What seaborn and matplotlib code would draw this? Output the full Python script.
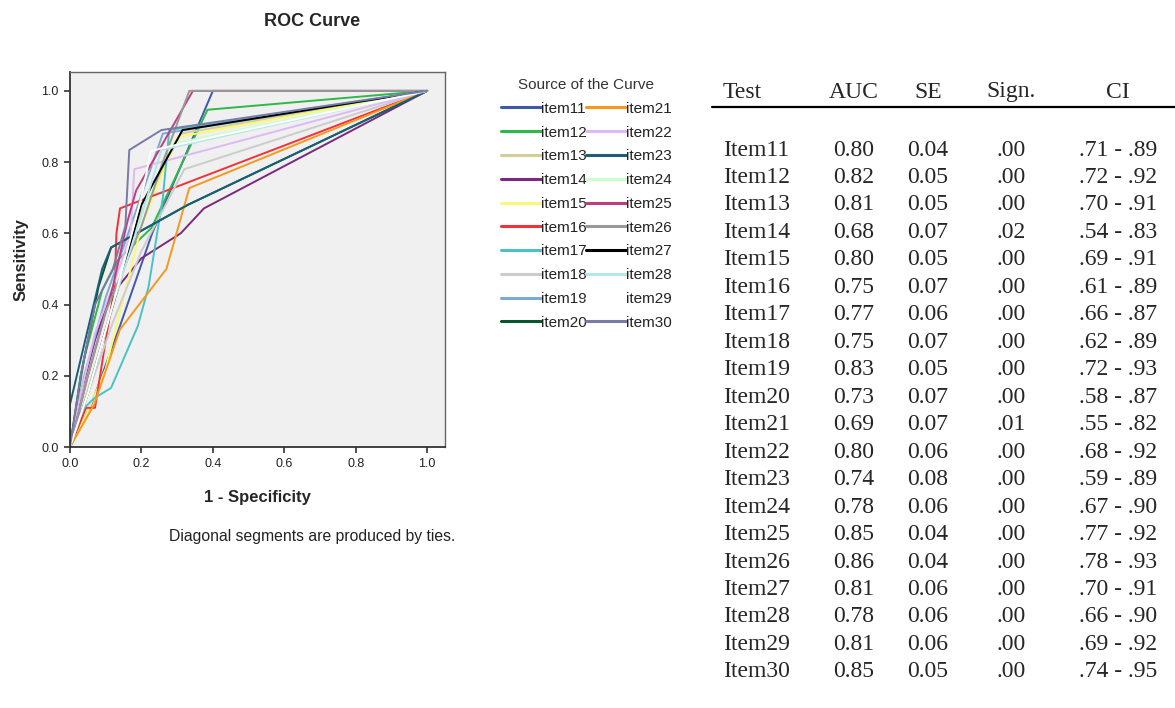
import numpy as np
import pandas as pd
import matplotlib
matplotlib.use("Agg")
import matplotlib.pyplot as plt
from matplotlib.lines import Line2D
import seaborn as sns

# ---- ROC curve points (1 - specificity, sensitivity) per item ----
item11_fpr = [0.0, 0.06, 0.14, 0.23, 0.40, 1.0]
item11_tpr = [0.0, 0.12, 0.34, 0.60, 1.00, 1.0]
item12_fpr = [0.0, 0.04, 0.09, 0.134, 0.228, 0.385, 1.0]
item12_tpr = [0.0, 0.25, 0.44, 0.525, 0.615, 0.947, 1.0]
item13_fpr = [0.0, 0.05, 0.11, 0.20, 0.31, 1.0]
item13_tpr = [0.0, 0.16, 0.36, 0.66, 0.88, 1.0]
item14_fpr = [0.0, 0.03, 0.07, 0.11, 0.20, 0.31, 0.375, 1.0]
item14_tpr = [0.0, 0.15, 0.30, 0.42, 0.53, 0.60, 0.67, 1.0]
item15_fpr = [0.0, 0.05, 0.10, 0.14, 0.20, 0.30, 1.0]
item15_tpr = [0.0, 0.10, 0.22, 0.38, 0.62, 0.87, 1.0]
item16_fpr = [0.0, 0.045, 0.07, 0.10, 0.125, 0.13, 0.14, 1.0]
item16_tpr = [0.0, 0.11, 0.11, 0.30, 0.45, 0.60, 0.67, 1.0]
item17_fpr = [0.0, 0.03, 0.068, 0.115, 0.19, 0.22, 0.26, 0.278, 1.0]
item17_tpr = [0.0, 0.10, 0.137, 0.166, 0.34, 0.45, 0.70, 0.89, 1.0]
item18_fpr = [0.0, 0.05, 0.12, 0.20, 0.32, 1.0]
item18_tpr = [0.0, 0.15, 0.35, 0.55, 0.78, 1.0]
item19_fpr = [0.0, 0.04, 0.10, 0.17, 0.26, 1.0]
item19_tpr = [0.0, 0.20, 0.42, 0.62, 0.88, 1.0]
item20_fpr = [0.0, 0.03, 0.08, 0.115, 0.33, 1.0]
item20_tpr = [0.0, 0.20, 0.45, 0.56, 0.68, 1.0]
item21_fpr = [0.0, 0.067, 0.14, 0.27, 0.334, 1.0]
item21_tpr = [0.0, 0.118, 0.33, 0.50, 0.727, 1.0]
item22_fpr = [0.0, 0.03, 0.07, 0.12, 0.17, 0.18, 1.0]
item22_tpr = [0.0, 0.15, 0.32, 0.45, 0.60, 0.78, 1.0]
item23_fpr = [0.0, 0.0, 0.09, 0.115, 0.33, 1.0]
item23_tpr = [0.0, 0.12, 0.50, 0.56, 0.68, 1.0]
item24_fpr = [0.0, 0.05, 0.12, 0.20, 0.28, 1.0]
item24_tpr = [0.0, 0.15, 0.40, 0.65, 0.85, 1.0]
item25_fpr = [0.0, 0.05, 0.12, 0.16, 0.185, 0.27, 0.344, 1.0]
item25_tpr = [0.0, 0.20, 0.45, 0.63, 0.72, 0.87, 1.00, 1.0]
item26_fpr = [0.0, 0.05, 0.10, 0.20, 0.26, 0.334, 1.0]
item26_tpr = [0.0, 0.20, 0.38, 0.62, 0.80, 1.00, 1.0]
item27_fpr = [0.0, 0.05, 0.10, 0.15, 0.20, 0.315, 1.0]
item27_tpr = [0.0, 0.15, 0.33, 0.50, 0.68, 0.89, 1.0]
item28_fpr = [0.0, 0.05, 0.12, 0.20, 0.256, 1.0]
item28_tpr = [0.0, 0.15, 0.40, 0.65, 0.834, 1.0]
item29_fpr = [0.0, 0.05, 0.12, 0.20, 0.226, 0.26, 1.0]
item29_tpr = [0.0, 0.15, 0.40, 0.70, 0.83, 0.84, 1.0]
item30_fpr = [0.0, 0.03, 0.07, 0.12, 0.155, 0.166, 0.256, 1.0]
item30_tpr = [0.0, 0.20, 0.40, 0.50, 0.62, 0.834, 0.89, 1.0]

curve_names = [f"item{i}" for i in range(11, 31)]
curve_fpr = [item11_fpr, item12_fpr, item13_fpr, item14_fpr, item15_fpr,
             item16_fpr, item17_fpr, item18_fpr, item19_fpr, item20_fpr,
             item21_fpr, item22_fpr, item23_fpr, item24_fpr, item25_fpr,
             item26_fpr, item27_fpr, item28_fpr, item29_fpr, item30_fpr]
curve_tpr = [item11_tpr, item12_tpr, item13_tpr, item14_tpr, item15_tpr,
             item16_tpr, item17_tpr, item18_tpr, item19_tpr, item20_tpr,
             item21_tpr, item22_tpr, item23_tpr, item24_tpr, item25_tpr,
             item26_tpr, item27_tpr, item28_tpr, item29_tpr, item30_tpr]
curve_colors = ["#3E58AC", "#2EB848", "#D3CE97", "#7C287D", "#FBF873",
                "#EF3338", "#48C2C5", "#CCCCCC", "#7AAAD5", "#0A562C",
                "#F8981D", "#DDBAF1", "#1A5F76", "#CCFFCC", "#BB3F7F",
                "#999999", "#000000", "#B6E7E8", "#FFFFFF", "#797AA7"]

# ---- AUC summary table ----
tests = [f"Item{i}" for i in range(11, 31)]
auc = [0.80, 0.82, 0.81, 0.68, 0.80, 0.75, 0.77, 0.75, 0.83, 0.73,
       0.69, 0.80, 0.74, 0.78, 0.85, 0.86, 0.81, 0.78, 0.81, 0.85]
se = [0.04, 0.05, 0.05, 0.07, 0.05, 0.07, 0.06, 0.07, 0.05, 0.07,
      0.07, 0.06, 0.08, 0.06, 0.04, 0.04, 0.06, 0.06, 0.06, 0.05]
sign = [0.00, 0.00, 0.00, 0.02, 0.00, 0.00, 0.00, 0.00, 0.00, 0.00,
        0.01, 0.00, 0.00, 0.00, 0.00, 0.00, 0.00, 0.00, 0.00, 0.00]
ci_low = [0.71, 0.72, 0.70, 0.54, 0.69, 0.61, 0.66, 0.62, 0.72, 0.58,
          0.55, 0.68, 0.59, 0.67, 0.77, 0.78, 0.70, 0.66, 0.69, 0.74]
ci_high = [0.89, 0.92, 0.91, 0.83, 0.91, 0.89, 0.87, 0.89, 0.93, 0.87,
           0.82, 0.92, 0.89, 0.90, 0.92, 0.93, 0.91, 0.90, 0.92, 0.95]

rows = []
for name, xs, ys in zip(curve_names, curve_fpr, curve_tpr):
    for order, (x, y) in enumerate(zip(xs, ys)):
        rows.append({"item": name, "order": order, "fpr": x, "tpr": y})
df = pd.DataFrame(rows)
palette = dict(zip(curve_names, curve_colors))

sns.set_theme(style="white")
plt.rcParams["font.family"] = ["Liberation Sans", "DejaVu Sans"]

W, H = 1175, 708
fig = plt.figure(figsize=(W / 100, H / 100), dpi=100)
ax = fig.add_axes([70 / W, 1 - 447 / H, 375 / W, 375 / H])
ax.set_facecolor("#F0F0F0")

sns.lineplot(data=df, x="fpr", y="tpr", hue="item", hue_order=curve_names,
             palette=palette, sort=False, estimator=None, units="item",
             linewidth=1.4, legend=False, ax=ax)

ax.set_xlim(0, 1.05)
ax.set_ylim(0, 1.053)
ticks = [0.0, 0.2, 0.4, 0.6, 0.8, 1.0]
ax.set_xticks(ticks)
ax.set_yticks(ticks)
ax.set_xticklabels([f"{t:.1f}" for t in ticks])
ax.set_yticklabels([f"{t:.1f}" for t in ticks])
ax.tick_params(axis="both", direction="out", length=4, width=1.2,
               color="#333333", labelsize=9, labelcolor="#222222", pad=4,
               bottom=True, left=True)
for side in ["left", "bottom"]:
    ax.spines[side].set_color("#333333")
    ax.spines[side].set_linewidth(1.3)
for side in ["top", "right"]:
    ax.spines[side].set_color("#666666")
    ax.spines[side].set_linewidth(1.0)

ax.set_xlabel("1 - Specificity", fontsize=12, fontweight="bold", labelpad=14)
ax.set_ylabel("Sensitivity", fontsize=12, fontweight="bold", labelpad=9)

fig.text(312 / W, 1 - 21 / H, "ROC Curve", ha="center", va="center",
         fontsize=13, fontweight="bold")
fig.text(312 / W, 1 - 536 / H, "Diagonal segments are produced by ties.",
         ha="center", va="center", fontsize=11.3, color="#222222")

handles = [Line2D([], [], color=c, linewidth=2.2) for c in curve_colors]
leg = fig.legend(handles, curve_names, loc="upper left",
                 bbox_to_anchor=(501 / W, 1 - 78 / H), ncol=2,
                 frameon=False, fontsize=11, title="Source of the Curve",
                 title_fontsize=11, handlelength=2.6, handletextpad=0.0,
                 columnspacing=0.0, labelspacing=0.64, borderpad=0,
                 borderaxespad=0)
for t in leg.get_texts():
    t.set_color("#222222")
leg.get_title().set_color("#333333")

# ---- table on the right ----
serif = ["Liberation Serif", "DejaVu Serif"]
tfs = 17
col_test = 723 / W
col_auc = 854 / W
col_se = 928 / W
col_sign = 1011 / W
col_ci = 1118 / W
y_head = 1 - 92 / H
fig.text(col_test, y_head, "Test", ha="left", va="center", fontsize=tfs, family=serif)
fig.text(col_auc, y_head, "AUC", ha="center", va="center", fontsize=tfs, family=serif)
fig.text(col_se, y_head, "SE", ha="center", va="center", fontsize=tfs, family=serif)
fig.text(col_sign, y_head, "Sign.", ha="center", va="center", fontsize=tfs, family=serif)
fig.text(col_ci, y_head, "CI", ha="center", va="center", fontsize=tfs, family=serif)
fig.add_artist(Line2D([712 / W, 1.0], [1 - 107 / H, 1 - 107 / H],
                      transform=fig.transFigure, color="black", linewidth=1.6))


def short(v):
    return f"{v:.2f}"[1:]


for i, name in enumerate(tests):
    y = 1 - (150 + i * 27.47) / H
    fig.text(col_test, y, name, ha="left", va="center", fontsize=tfs, family=serif)
    fig.text(col_auc, y, f"{auc[i]:.2f}", ha="center", va="center", fontsize=tfs, family=serif)
    fig.text(col_se, y, f"{se[i]:.2f}", ha="center", va="center", fontsize=tfs, family=serif)
    fig.text(col_sign, y, short(sign[i]), ha="center", va="center", fontsize=tfs, family=serif)
    fig.text(col_ci, y, f"{short(ci_low[i])} - {short(ci_high[i])}", ha="center",
             va="center", fontsize=tfs, family=serif)

fig.savefig("out.png", dpi=100, facecolor="white")
